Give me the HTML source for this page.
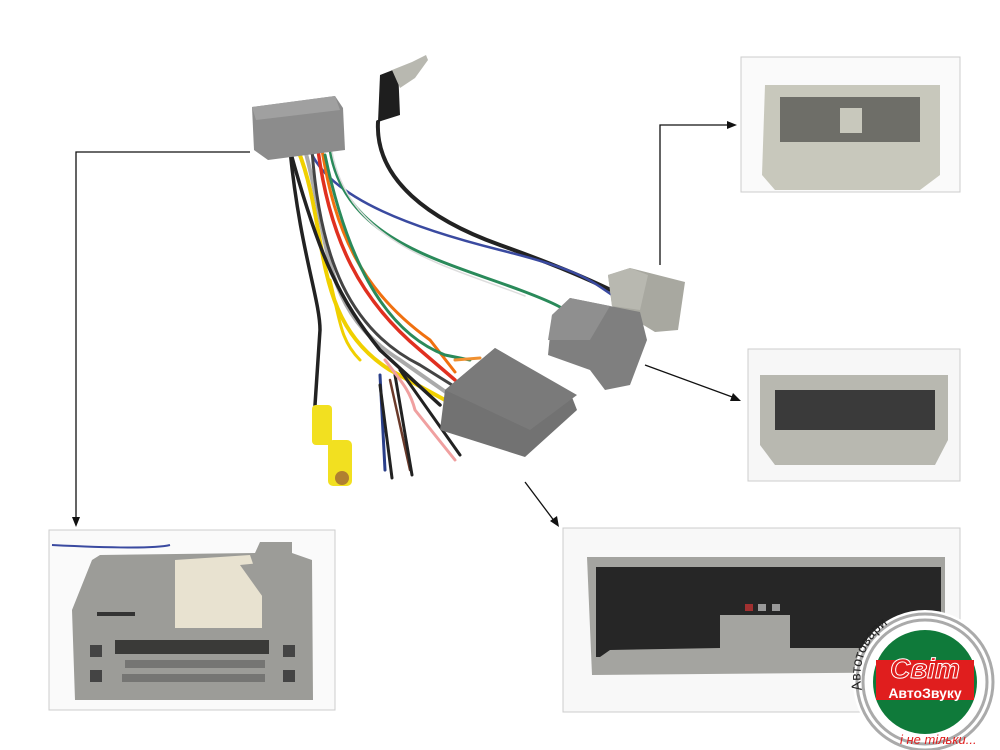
<!DOCTYPE html>
<html><head><meta charset="utf-8"><style>
html,body{margin:0;padding:0;background:#fff;}
svg{display:block;}
</style></head><body>
<svg width="1000" height="750" viewBox="0 0 1000 750" xmlns="http://www.w3.org/2000/svg" font-family="Liberation Sans, sans-serif">
<defs><path id="arc" d="M862,690 A63,63 0 0 1 975,640"/></defs>
<rect width="1000" height="750" fill="#fff"/>
<g stroke="#111" stroke-width="1.3" fill="none">
<polyline points="250,152 76,152 76,520"/>
<polyline points="660,265 660,125 730,125"/>
<line x1="645" y1="365" x2="735" y2="398"/>
<line x1="525" y1="482" x2="555" y2="522"/>
</g>
<g fill="#111">
<polygon points="76,527 72,517 80,517"/>
<polygon points="737,125 727,121 727,129"/>
<polygon points="741,401 730,401 733,393"/>
<polygon points="559,527 550,521 557,516"/>
</g>
<g fill="none" stroke-linecap="round">
<path d="M378,122 C375,180 430,220 500,245 S600,285 615,292" stroke="#222" stroke-width="4"/>
<path d="M310,150 C330,200 420,230 500,250 S590,280 612,295" stroke="#3a4aa0" stroke-width="2.5"/>
<path d="M330,150 C345,240 440,260 520,290 S555,315 555,318" stroke="#2a8a5a" stroke-width="3"/>
<path d="M332,152 C350,245 445,265 525,296" stroke="#ddd" stroke-width="1.5"/>
<path d="M298,150 C330,230 310,320 390,370 L445,400" stroke="#f0d000" stroke-width="4"/>
<path d="M305,150 C330,240 320,310 400,360 L450,395" stroke="#aaa" stroke-width="4"/>
<path d="M318,150 C330,240 360,300 420,350 L455,380" stroke="#e03020" stroke-width="3.5"/>
<path d="M322,150 C335,230 360,290 430,340 L455,372" stroke="#f07010" stroke-width="3"/>
<path d="M290,150 C320,260 340,300 380,350 L440,405" stroke="#222" stroke-width="3.5"/>
<path d="M312,150 C320,260 350,330 420,365 L452,385" stroke="#444" stroke-width="3"/>
<path d="M325,155 C345,250 380,330 445,355 L470,360" stroke="#2a8a5a" stroke-width="3"/>
<path d="M290,150 C300,250 320,300 320,330 L315,405" stroke="#222" stroke-width="3.5"/>
<path d="M330,280 C340,320 340,340 360,360" stroke="#f0d000" stroke-width="3"/>
<path d="M380,375 L385,470" stroke="#2a3f8a" stroke-width="3"/>
<path d="M380,385 L392,478" stroke="#222" stroke-width="3"/>
<path d="M390,380 L410,470" stroke="#6b3a2a" stroke-width="2.5"/>
<path d="M395,375 L412,475" stroke="#222" stroke-width="3"/>
<path d="M385,360 C400,380 410,390 415,410 L455,460" stroke="#f0a0a0" stroke-width="3"/>
<path d="M400,370 L460,455" stroke="#222" stroke-width="3"/>
<path d="M455,360 L480,358" stroke="#f09030" stroke-width="3"/>
</g>
<polygon points="252,107 335,96 343,108 345,150 268,160 254,150" fill="#8c8c8c"/>
<polygon points="252,107 335,96 340,110 256,120" fill="#a0a0a0"/>
<polygon points="380,75 398,68 400,115 378,122" fill="#1e1e1e"/>
<polygon points="392,70 412,62 426,55 428,60 415,78 400,88" fill="#b8b8b0"/>
<polygon points="608,275 630,268 685,282 678,330 655,332 612,306" fill="#a8a8a0"/>
<polygon points="608,275 630,268 648,275 640,310 612,306" fill="#b8b8b0"/>
<polygon points="552,315 570,298 640,312 647,340 630,385 605,390 590,370 548,355" fill="#7f7f7f"/>
<polygon points="552,315 570,298 610,306 590,340 548,340" fill="#8f8f8f"/>
<polygon points="445,390 495,348 570,392 577,410 525,457 440,430" fill="#727272"/>
<polygon points="445,390 495,348 577,395 530,430" fill="#7a7a7a"/>
<rect x="312" y="405" width="20" height="40" rx="4" fill="#f2e020"/>
<rect x="328" y="440" width="24" height="46" rx="5" fill="#f2e020"/>
<circle cx="342" cy="478" r="7" fill="#b08030"/>
<rect x="741" y="57" width="219" height="135" fill="#fafafa" stroke="#ccc"/>
<polygon points="765,85 940,85 940,175 920,190 775,190 762,175" fill="#c8c8bc"/>
<rect x="780" y="97" width="140" height="45" fill="#6e6e68"/>
<rect x="840" y="108" width="22" height="25" fill="#c8c8bc"/>
<rect x="748" y="349" width="212" height="132" fill="#f7f7f7" stroke="#ccc"/>
<polygon points="760,375 948,375 948,440 935,465 775,465 760,445" fill="#b8b8b0"/>
<rect x="775" y="390" width="160" height="40" fill="#3a3a3a"/>
<rect x="49" y="530" width="286" height="180" fill="#fafafa" stroke="#ccc"/>
<path d="M52,545 Q150,550 170,545" stroke="#3a4aa0" stroke-width="2" fill="none"/>
<polygon points="100,555 255,553 260,542 292,542 292,553 312,560 313,700 75,700 72,610 92,560" fill="#9c9c98"/>
<polygon points="175,560 250,555 262,590 262,628 175,628" fill="#e8e2d0"/>
<polygon points="240,565 290,560 300,610 265,600" fill="#9c9c98"/>
<rect x="97" y="612" width="38" height="4" fill="#333"/>
<rect x="115" y="640" width="154" height="14" fill="#3a3a38"/>
<g fill="#555">
<rect x="125" y="660" width="140" height="8" opacity=".55"/>
<rect x="122" y="674" width="143" height="8" opacity=".55"/>
</g>
<rect x="90" y="645" width="12" height="12" fill="#444"/>
<rect x="90" y="670" width="12" height="12" fill="#444"/>
<rect x="283" y="645" width="12" height="12" fill="#444"/>
<rect x="283" y="670" width="12" height="12" fill="#444"/>
<rect x="563" y="528" width="397" height="184" fill="#f8f8f8" stroke="#ccc"/>
<polygon points="587,557 945,557 945,672 592,675" fill="#a4a4a0"/>
<rect x="596" y="567" width="345" height="90" fill="#262626"/>
<polygon points="600,657 610,650 720,648 720,615 790,615 790,648 940,648 940,665 600,668" fill="#a4a4a0"/>
<rect x="745" y="604" width="8" height="7" fill="#a03030"/>
<rect x="758" y="604" width="8" height="7" fill="#999"/>
<rect x="772" y="604" width="8" height="7" fill="#999"/>
<circle cx="925" cy="682" r="72" fill="#fff"/>
<g fill="none" stroke="#aaa" stroke-width="3">
<circle cx="925" cy="682" r="62"/>
<circle cx="925" cy="682" r="68"/>
</g>
<circle cx="925" cy="682" r="52" fill="#0f7a3a"/>
<rect x="876" y="660" width="98" height="40" fill="#e01e1e"/>
<text x="925" y="678" font-size="28" font-weight="bold" font-style="italic" fill="#e01e1e" stroke="#fff" stroke-width="1" text-anchor="middle">Світ</text>
<text x="925" y="698" font-size="14" font-weight="bold" fill="#fff" text-anchor="middle">АвтоЗвуку</text>
<text font-size="14" fill="#222"><textPath href="#arc">Автотовари</textPath></text>
<text x="900" y="744" font-size="13" font-style="italic" fill="#e01e1e">і не тільки...</text>
</svg>
</body></html>
